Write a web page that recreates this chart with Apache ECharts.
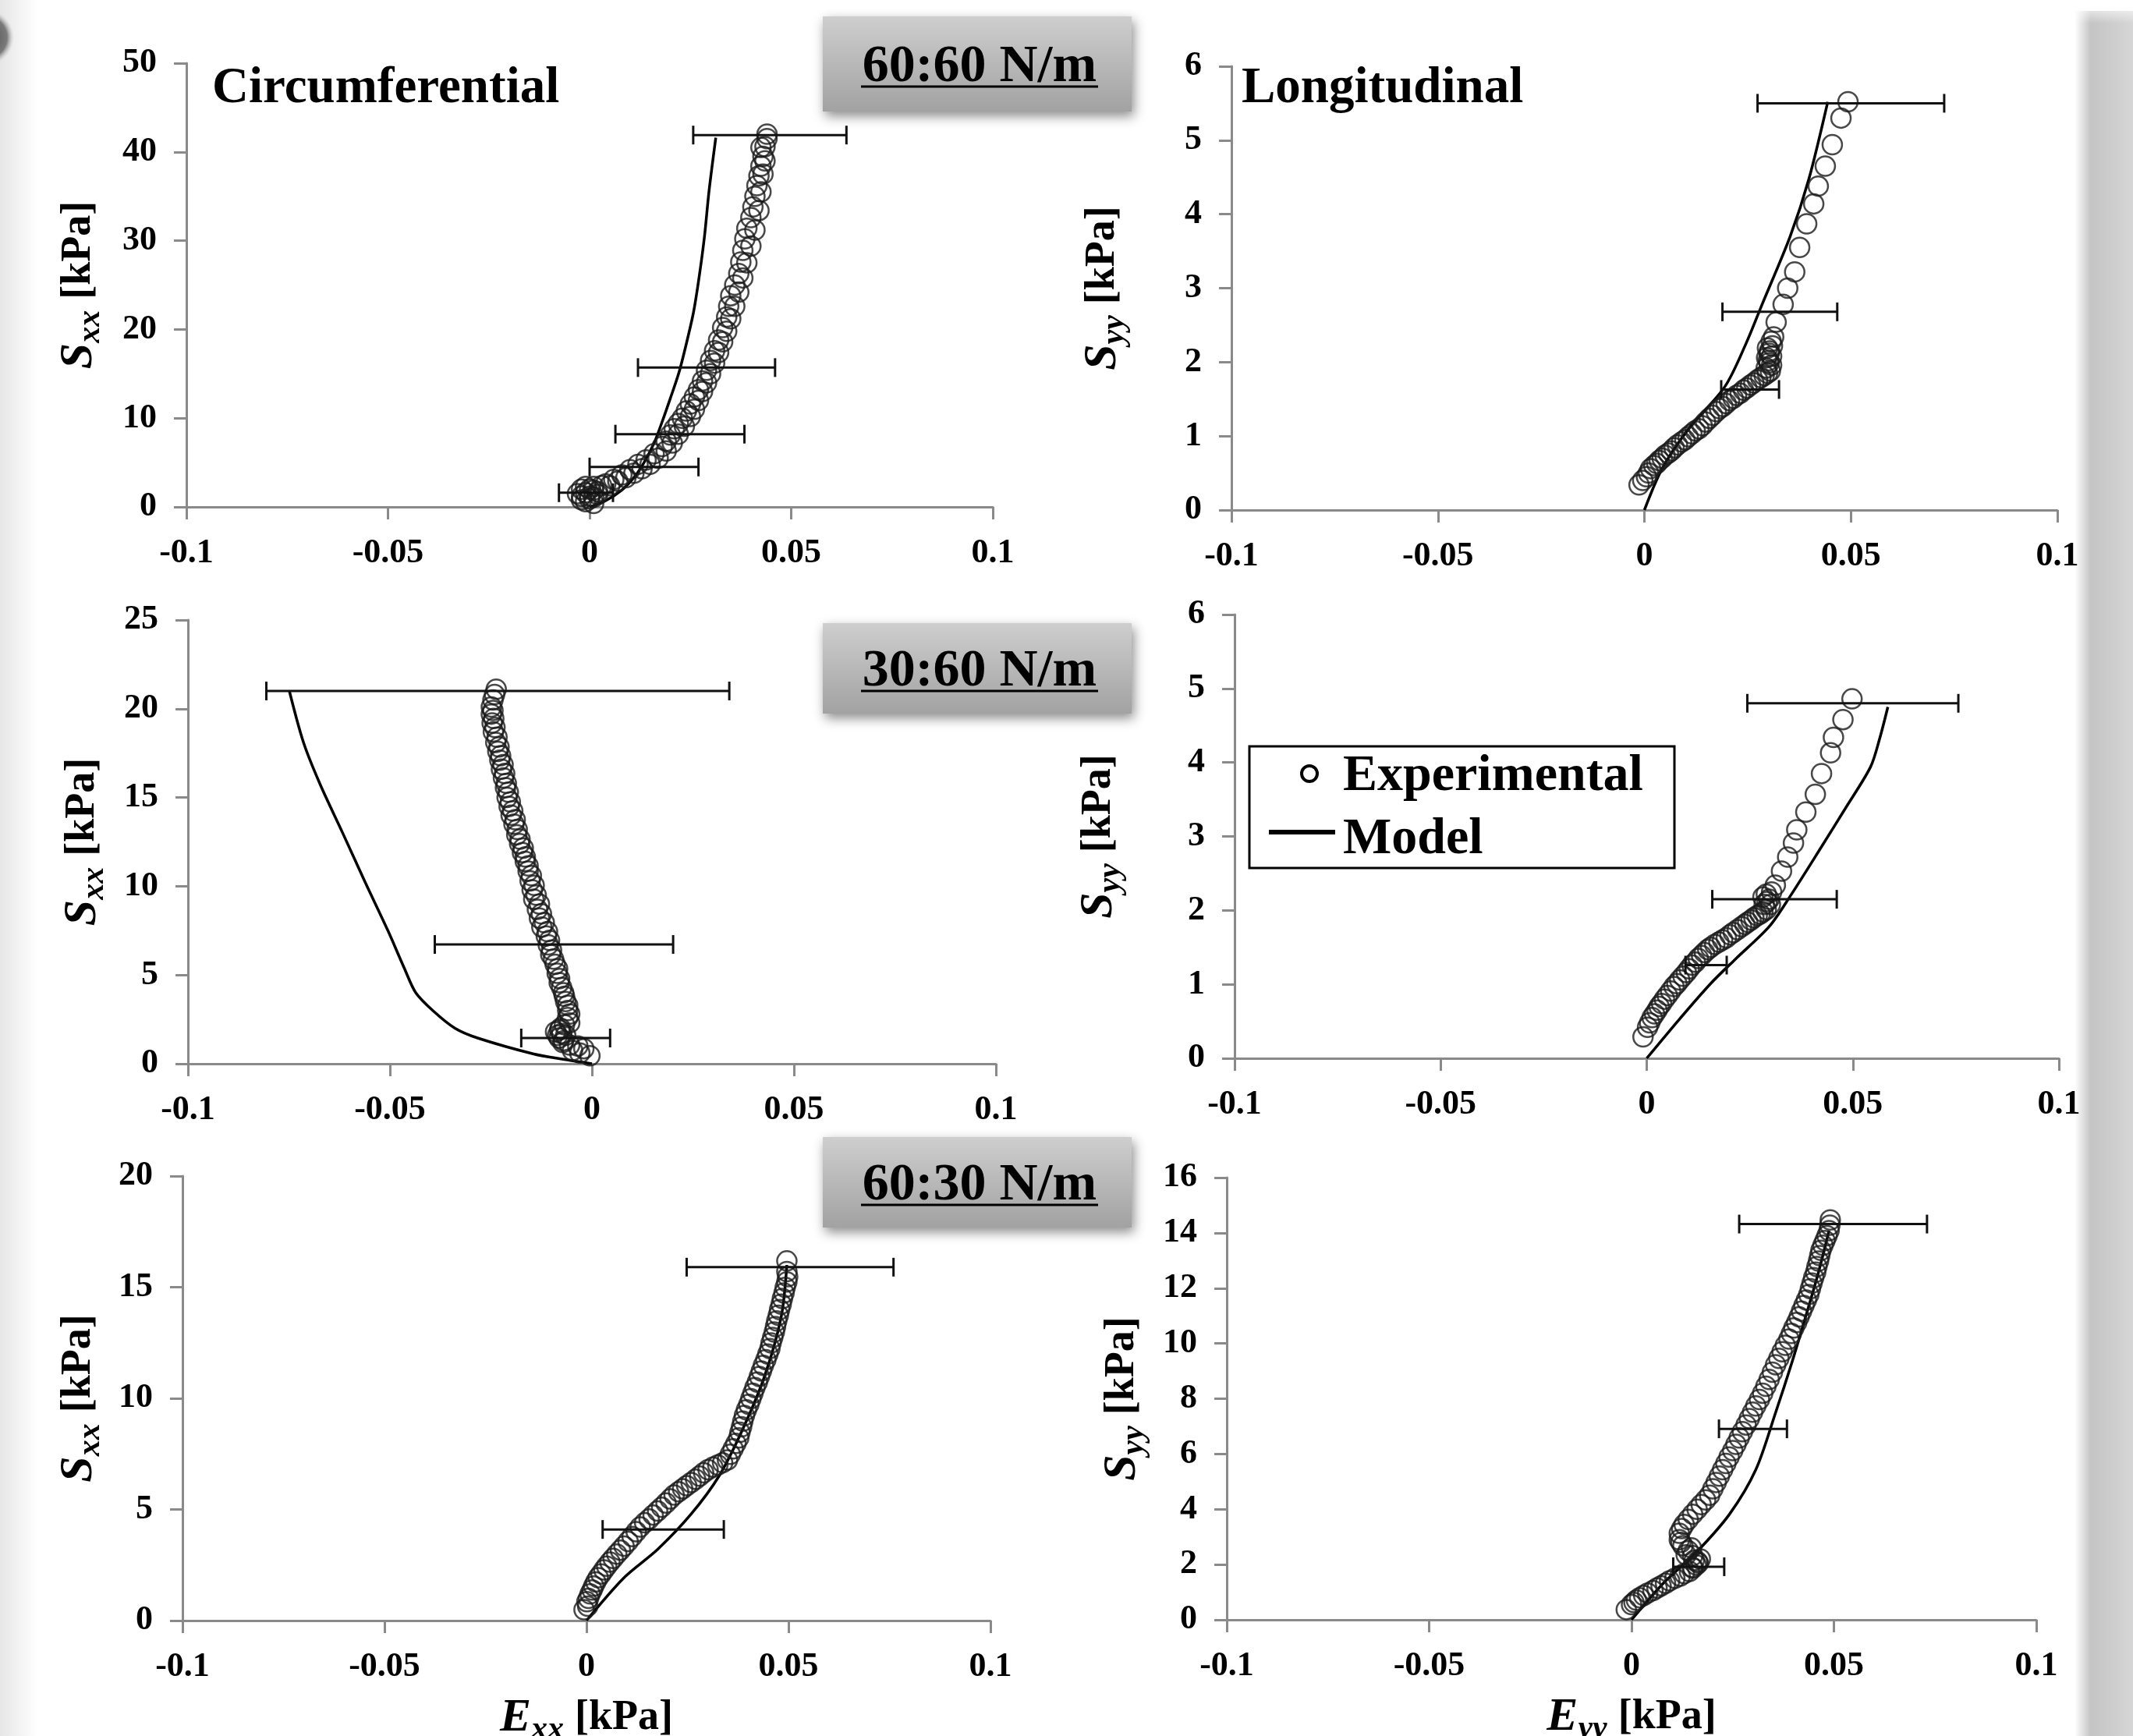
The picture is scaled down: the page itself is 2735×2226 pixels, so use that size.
<!DOCTYPE html>
<html>
<head>
<meta charset="utf-8">
<title>Stress vs strain, biaxial loading</title>
<script src="https://cdn.jsdelivr.net/npm/echarts@6/dist/echarts.min.js"></script>
<style>
  html, body { margin: 0; padding: 0; background: #fff; }
  #chart { width: 2735px; height: 2226px; }
</style>
</head>
<body>
<div id="chart"></div>
<script>
// values, as [E, S] pairs
// experimental data come in two overlapping passes (loading cycles), so two arrays each
// error bars are [E centre, S, half width]

// --- 60:60 N/m, circumferential ---
const circ6060Exp = [
  [-0.001, 0.6], [0.000, 0.9], [-0.002, 1.2], [0.001, 1.1], [-0.001, 1.6], [0.000, 2.0], [0.002, 1.7],
  [0.001, 2.3], [-0.002, 2.0], [0.003, 2.4], [0.004, 2.6], [0.006, 3.1], [0.008, 3.6], [0.010, 4.2],
  [0.012, 4.8], [0.014, 5.3], [0.016, 6.0], [0.018, 6.8], [0.019, 7.4], [0.020, 8.1], [0.021, 8.8],
  [0.022, 9.4], [0.023, 10.0], [0.024, 10.8], [0.025, 11.6], [0.026, 12.4], [0.027, 13.2], [0.028, 14.2],
  [0.029, 15.4], [0.030, 16.5], [0.031, 17.6], [0.032, 18.8], [0.033, 20.2], [0.034, 21.4], [0.0345, 22.6],
  [0.035, 23.8], [0.036, 25.0], [0.037, 26.3], [0.0375, 27.6], [0.038, 28.9], [0.0385, 30.2], [0.039, 31.4],
  [0.040, 32.6], [0.0405, 33.8], [0.041, 35.0], [0.0415, 36.2], [0.042, 37.3], [0.0425, 38.4], [0.043, 39.5],
  [0.0435, 40.6], [0.044, 41.5], [0.044, 42.0]
];
const circ6060Exp2 = [
  [0.001, 0.4], [-0.002, 0.8], [0.002, 1.4], [-0.003, 1.5], [0.000, 1.2], [0.001, 1.9], [-0.001, 2.3],
  [0.005, 2.4], [0.007, 2.9], [0.009, 3.3], [0.011, 3.8], [0.013, 4.3], [0.015, 4.8], [0.017, 5.5],
  [0.019, 6.3], [0.0205, 7.2], [0.022, 8.2], [0.0235, 9.1], [0.025, 10.2], [0.026, 11.0], [0.027, 12.0],
  [0.028, 13.0], [0.029, 14.0], [0.030, 15.0], [0.031, 16.2], [0.032, 17.4], [0.033, 18.6], [0.034, 19.8],
  [0.035, 21.2], [0.036, 22.6], [0.037, 24.2], [0.038, 25.8], [0.039, 27.5], [0.040, 29.4], [0.041, 31.2],
  [0.042, 33.4], [0.0425, 35.5], [0.043, 37.5], [0.0435, 39.0], [0.0425, 40.5]
];
const circ6060Model = [
  [0, 0], [0.004, 0.7], [0.008, 1.9], [0.011, 3.3], [0.0135, 5.0], [0.016, 7.2], [0.018, 9.6], [0.020, 12.2],
  [0.0222, 15.2], [0.024, 18.4], [0.0258, 22.0], [0.0272, 26.0], [0.0285, 30.5], [0.0296, 35.5], [0.0313, 41.6]
];
const circ6060Err = [[0.0447, 41.9, 0.019], [0.029, 15.7, 0.017], [0.0224, 8.2, 0.016], [0.0135, 4.5, 0.0135], [-0.0009, 1.6, 0.0067]];

// --- 60:60 N/m, longitudinal ---
const long6060Exp = [
  [-0.0013, 0.34], [0.0005, 0.45], [0.0015, 0.56], [0.003, 0.63], [0.0043, 0.70], [0.0058, 0.77], [0.0072, 0.84],
  [0.009, 0.92], [0.0106, 0.99], [0.0123, 1.07], [0.014, 1.14], [0.0157, 1.24], [0.0174, 1.33], [0.019, 1.40],
  [0.0206, 1.48], [0.0223, 1.55], [0.024, 1.62], [0.0257, 1.69], [0.0274, 1.76], [0.029, 1.82], [0.0305, 1.88],
  [0.0308, 1.96], [0.030, 2.02], [0.0308, 2.08], [0.0303, 2.15], [0.031, 2.22], [0.0313, 2.34], [0.0319, 2.54],
  [0.0336, 2.78], [0.0347, 3.0], [0.0364, 3.22], [0.0376, 3.55], [0.0393, 3.87], [0.041, 4.14], [0.0421, 4.38],
  [0.0438, 4.65], [0.0455, 4.94], [0.0476, 5.30], [0.0493, 5.52]
];
const long6060Exp2 = [
  [-0.0004, 0.4], [0.001, 0.5], [0.0023, 0.6], [0.0036, 0.67], [0.005, 0.74], [0.0065, 0.8], [0.008, 0.88],
  [0.0098, 0.95], [0.0115, 1.03], [0.0132, 1.1], [0.0148, 1.19], [0.0165, 1.28], [0.0182, 1.37], [0.0198, 1.44],
  [0.0215, 1.51], [0.0232, 1.58], [0.0248, 1.65], [0.0265, 1.72], [0.0282, 1.79], [0.0298, 1.85], [0.0295, 1.92],
  [0.0302, 1.99], [0.0296, 2.06], [0.0302, 2.12], [0.0298, 2.19], [0.0307, 2.28]
];
const long6060Model = [[0, 0], [0.0043, 0.56], [0.0106, 1.09], [0.0195, 1.67], [0.0246, 2.25], [0.0285, 2.78], [0.0353, 3.70], [0.0398, 4.47], [0.0444, 5.52]];
const long6060Err = [[0.050, 5.5, 0.0226], [0.0328, 2.68, 0.0139], [0.0256, 1.63, 0.007]];

// --- 30:60 N/m, circumferential ---
const circ3060Exp = [
  [-0.0005, 0.45], [-0.002, 0.85], [-0.0035, 1.0], [-0.0055, 1.05], [-0.007, 1.3], [-0.0081, 1.45], [-0.0075, 1.7],
  [-0.0065, 1.6], [-0.008, 1.9], [-0.0068, 2.2], [-0.006, 2.6], [-0.006, 3.0], [-0.0065, 3.5], [-0.007, 4.0],
  [-0.0081, 4.57], [-0.0086, 5.1], [-0.0091, 5.6], [-0.0102, 6.15], [-0.0108, 6.7], [-0.0113, 7.2], [-0.0124, 7.7],
  [-0.013, 8.2], [-0.0135, 8.7], [-0.0144, 9.27], [-0.0148, 9.8], [-0.0153, 10.3], [-0.0158, 10.85], [-0.0165, 11.4],
  [-0.0172, 11.9], [-0.0179, 12.4], [-0.0186, 12.9], [-0.0193, 13.5], [-0.020, 14.0], [-0.0205, 14.5], [-0.021, 15.0],
  [-0.0214, 15.55], [-0.0219, 16.1], [-0.0224, 16.6], [-0.0228, 17.1], [-0.0233, 17.6], [-0.0238, 18.1], [-0.0244, 18.7],
  [-0.0247, 19.2], [-0.0249, 19.7], [-0.0249, 20.1], [-0.0245, 20.5], [-0.0241, 20.8], [-0.0237, 21.1]
];
const circ3060Exp2 = [
  [-0.0085, 1.6], [-0.009, 1.8], [-0.0078, 2.0], [-0.0072, 1.2], [-0.0048, 0.75], [-0.003, 0.6],
  [-0.0055, 2.3], [-0.0055, 2.8], [-0.006, 3.3], [-0.0068, 3.8], [-0.0075, 4.3], [-0.008, 4.8], [-0.0085, 5.35],
  [-0.0095, 5.9], [-0.01, 6.4], [-0.0105, 6.95], [-0.011, 7.45], [-0.0118, 7.95], [-0.0125, 8.45], [-0.013, 9.0],
  [-0.0138, 9.5], [-0.0143, 10.05], [-0.015, 10.6], [-0.0158, 11.15], [-0.0165, 11.65], [-0.017, 12.15], [-0.0178, 12.65],
  [-0.0185, 13.2], [-0.019, 13.75], [-0.0196, 14.25], [-0.0202, 14.75], [-0.0207, 15.3], [-0.0212, 15.8], [-0.0216, 16.35],
  [-0.022, 16.85], [-0.0226, 17.35], [-0.023, 17.85], [-0.0235, 18.4], [-0.024, 18.95], [-0.0243, 19.45], [-0.0245, 19.9]
];
const circ3060Model = [
  [0, 0], [-0.0074, 0.26], [-0.0144, 0.55], [-0.0283, 1.45], [-0.0339, 2.0], [-0.0394, 3.0], [-0.0436, 4.0],
  [-0.0464, 5.36], [-0.0505, 7.5], [-0.0562, 10.26], [-0.0617, 13.0], [-0.0673, 15.75], [-0.0714, 18.1], [-0.0749, 21.0]
];
const circ3060Err = [[-0.0233, 21.0, 0.0573], [-0.0094, 6.72, 0.0295], [-0.0065, 1.45, 0.011]];

// --- 30:60 N/m, longitudinal ---
const long3060Exp = [
  [-0.0009, 0.29], [0.0002, 0.42], [0.0013, 0.55], [0.0025, 0.65], [0.0036, 0.74], [0.005, 0.85], [0.0066, 0.97],
  [0.008, 1.06], [0.0096, 1.16], [0.011, 1.26], [0.0125, 1.35], [0.014, 1.43], [0.0155, 1.50], [0.0175, 1.57],
  [0.0193, 1.63], [0.021, 1.70], [0.023, 1.78], [0.0245, 1.84], [0.026, 1.90], [0.0275, 1.95], [0.029, 2.01],
  [0.0285, 2.08], [0.0297, 2.15], [0.029, 2.22], [0.0312, 2.34], [0.0327, 2.53], [0.0342, 2.72], [0.0356, 2.91],
  [0.0364, 3.09], [0.0386, 3.33], [0.0409, 3.57], [0.0424, 3.85], [0.0446, 4.13], [0.0453, 4.34], [0.0476, 4.58],
  [0.0498, 4.86]
];
const long3060Exp2 = [
  [0.0007, 0.48], [0.0019, 0.6], [0.003, 0.7], [0.0043, 0.8], [0.0058, 0.91], [0.0073, 1.01], [0.0088, 1.11],
  [0.0103, 1.21], [0.0118, 1.3], [0.0133, 1.39], [0.0148, 1.47], [0.0165, 1.54], [0.0184, 1.6], [0.0202, 1.67],
  [0.022, 1.74], [0.0238, 1.81], [0.0253, 1.87], [0.0268, 1.93], [0.0282, 1.98], [0.030, 2.08], [0.0292, 2.12],
  [0.0303, 2.25], [0.0282, 2.18]
];
const long3060Model = [[0, 0], [0.0081, 0.54], [0.0155, 1.01], [0.0215, 1.34], [0.0297, 1.78], [0.0349, 2.20], [0.0424, 2.86], [0.0482, 3.38], [0.0543, 3.94], [0.0565, 4.32], [0.0585, 4.75]];
const long3060Err = [[0.050, 4.80, 0.0256], [0.031, 2.15, 0.0151], [0.0144, 1.26, 0.005]];

// --- 60:30 N/m, circumferential ---
const circ6030Exp = [
  [-0.0006, 0.49], [0.0001, 0.85], [0.0009, 1.20], [0.0018, 1.55], [0.0029, 1.93], [0.0043, 2.28], [0.0058, 2.63],
  [0.0075, 2.99], [0.0093, 3.35], [0.0113, 3.78], [0.0133, 4.21], [0.0155, 4.57], [0.0176, 4.93], [0.0197, 5.29],
  [0.0217, 5.65], [0.0238, 5.93], [0.0259, 6.21], [0.028, 6.5], [0.0301, 6.79], [0.0325, 7.0], [0.0349, 7.23],
  [0.0363, 7.73], [0.0377, 8.22], [0.0384, 8.72], [0.0391, 9.23], [0.0402, 9.73], [0.0412, 10.23], [0.0423, 10.73],
  [0.0433, 11.23], [0.0444, 11.74], [0.0454, 12.24], [0.0461, 12.74], [0.0468, 13.23], [0.0475, 13.74], [0.0482, 14.24],
  [0.0489, 14.74], [0.0496, 15.24], [0.0496, 15.7], [0.0496, 16.18]
];
const circ6030Exp2 = [
  [0.0003, 0.65], [0.0005, 1.0], [0.0014, 1.38], [0.0023, 1.74], [0.0036, 2.1], [0.005, 2.45], [0.0066, 2.8],
  [0.0084, 3.17], [0.0103, 3.56], [0.0123, 4.0], [0.0144, 4.4], [0.0165, 4.75], [0.0186, 5.1], [0.0207, 5.47],
  [0.0228, 5.8], [0.0248, 6.07], [0.027, 6.36], [0.029, 6.65], [0.0313, 6.9], [0.0337, 7.1], [0.0356, 7.48],
  [0.037, 7.97], [0.038, 8.47], [0.0387, 8.97], [0.0396, 9.48], [0.0407, 9.98], [0.0417, 10.48], [0.0428, 10.98],
  [0.0438, 11.48], [0.0449, 11.99], [0.0457, 12.49], [0.0465, 12.98], [0.0471, 13.48], [0.0478, 13.99], [0.0485, 14.49],
  [0.0492, 14.99], [0.0498, 15.47]
];
const circ6030Model = [[0, 0], [0.0093, 1.93], [0.0176, 3.2], [0.0259, 4.79], [0.0328, 6.5], [0.0384, 8.5], [0.044, 10.95], [0.0482, 13.66], [0.0496, 16.0]];
const circ6030Err = [[0.0504, 15.9, 0.0256], [0.019, 4.1, 0.015]];

// --- 60:30 N/m, longitudinal ---
const long6030Exp = [
  [-0.0013, 0.37], [0.0, 0.55], [0.0012, 0.71], [0.003, 0.88], [0.0053, 1.06], [0.0073, 1.23], [0.0094, 1.41],
  [0.012, 1.58], [0.0143, 1.75], [0.016, 1.98], [0.0165, 2.05], [0.015, 1.9], [0.017, 2.2], [0.0155, 2.15],
  [0.0151, 2.32], [0.0135, 2.35], [0.014, 2.5], [0.0127, 2.68], [0.0118, 2.9], [0.0118, 3.13], [0.013, 3.45],
  [0.0151, 3.82], [0.0172, 4.17], [0.0193, 4.51], [0.0209, 4.97], [0.0225, 5.43], [0.0241, 5.89], [0.0258, 6.35],
  [0.0274, 6.81], [0.0291, 7.28], [0.0307, 7.74], [0.0324, 8.2], [0.034, 8.7], [0.0356, 9.23], [0.0372, 9.7],
  [0.0389, 10.16], [0.0401, 10.56], [0.0414, 10.96], [0.0426, 11.37], [0.0438, 11.77], [0.0446, 12.18], [0.0455, 12.58],
  [0.0462, 12.98], [0.0468, 13.37], [0.0478, 13.72], [0.0488, 14.08], [0.0491, 14.47]
];
const long6030Exp2 = [
  [0.0006, 0.63], [0.002, 0.8], [0.004, 0.97], [0.0063, 1.15], [0.0084, 1.32], [0.0107, 1.5], [0.013, 1.67],
  [0.0152, 1.87], [0.0163, 2.1], [0.0148, 2.6], [0.0122, 2.8], [0.0124, 3.3], [0.014, 3.63], [0.0162, 4.0],
  [0.0183, 4.34], [0.0201, 4.74], [0.0217, 5.2], [0.0233, 5.66], [0.025, 6.12], [0.0266, 6.58], [0.0283, 7.05],
  [0.0299, 7.51], [0.0316, 7.97], [0.0332, 8.45], [0.0348, 8.96], [0.0364, 9.46], [0.038, 9.93], [0.0395, 10.36],
  [0.0408, 10.76], [0.042, 11.17], [0.0432, 11.57], [0.0442, 11.98], [0.045, 12.38], [0.0458, 12.78], [0.0465, 13.18],
  [0.0473, 13.55], [0.0483, 13.9], [0.049, 14.28]
];
const long6030Model = [[0, 0], [0.0077, 1.3], [0.016, 2.44], [0.0242, 3.82], [0.0307, 5.43], [0.0356, 7.5], [0.0397, 9.35], [0.043, 10.96], [0.0462, 12.58], [0.0488, 14.08]];
const long6030Err = [[0.0498, 14.32, 0.0232], [0.030, 6.91, 0.0084], [0.0166, 1.92, 0.0063]];

// axis ranges: y max and y step per panel
const yMaxes = [50, 6, 25, 6, 20, 16];
const ySteps = [10, 1, 5, 1, 5, 2];
const loadLabels = ['60:60 N/m', '30:60 N/m', '60:30 N/m'];

// panel layout in pixels: [left, top, width, height], y-name gap
const panels = [
  { box: [239, 81, 1034, 569], gap: 108, exp: circ6060Exp.concat(circ6060Exp2), model: circ6060Model, err: circ6060Err, sub: 'xx', xName: false },
  { box: [1579, 85, 1059, 569], gap: 135, exp: long6060Exp.concat(long6060Exp2), model: long6060Model, err: long6060Err, sub: 'yy', xName: false },
  { box: [241, 795, 1036, 569], gap: 105, exp: circ3060Exp.concat(circ3060Exp2), model: circ3060Model, err: circ3060Err, sub: 'xx', xName: false },
  { box: [1583, 788, 1057, 569], gap: 144, exp: long3060Exp.concat(long3060Exp2), model: long3060Model, err: long3060Err, sub: 'yy', xName: false },
  { box: [234, 1508, 1036, 570], gap: 103, exp: circ6030Exp.concat(circ6030Exp2), model: circ6030Model, err: circ6030Err, sub: 'xx', xName: true },
  { box: [1573, 1510, 1038, 567], gap: 104, exp: long6030Exp.concat(long6030Exp2), model: long6030Model, err: long6030Err, sub: 'yy', xName: true }
];

const SERIF = 'Liberation Serif';
const AXIS_GREY = '#8a8a8a';

const richName = {
  s: { fontFamily: SERIF, fontSize: 60, fontWeight: 'bold', fontStyle: 'italic', color: '#000', lineHeight: 60 },
  sub: { fontFamily: SERIF, fontSize: 42, fontWeight: 'bold', fontStyle: 'italic', color: '#000', lineHeight: 40, padding: [30, 0, 0, 0] },
  u: { fontFamily: SERIF, fontSize: 54, fontWeight: 'bold', color: '#000', lineHeight: 60, padding: [0, 0, 0, 14] }
};

const axisCommon = {
  axisLine: { onZero: false, lineStyle: { color: AXIS_GREY, width: 3 } },
  axisTick: { show: true, length: 16, lineStyle: { color: AXIS_GREY, width: 3 } },
  axisLabel: { fontFamily: SERIF, fontWeight: 'bold', fontSize: 44, color: '#000', margin: 38 },
  splitLine: { show: false }
};

const grids = [], xAxes = [], yAxes = [], series = [];

panels.forEach((p, i) => {
  // outerBoundsMode none: keep the grid where it is, the bottom titles run off the page like the original
  grids.push({ left: p.box[0], top: p.box[1], width: p.box[2], height: p.box[3], containLabel: false, outerBoundsMode: 'none' });
  xAxes.push(Object.assign({
    gridIndex: i, type: 'value', min: -0.1, max: 0.1, interval: 0.05,
    name: p.xName ? '{s|E}{sub|' + p.sub + '}{u|[kPa]}' : '',
    nameLocation: 'middle', nameGap: 95,
    nameTextStyle: { rich: richName }
  }, axisCommon));
  yAxes.push(Object.assign({
    gridIndex: i, type: 'value', min: 0, max: yMaxes[i], interval: ySteps[i],
    name: '{s|S}{sub|' + p.sub + '}{u|[kPa]}',
    nameLocation: 'middle', nameGap: p.gap,
    nameTextStyle: { rich: richName }
  }, axisCommon));

  series.push({
    name: 'Model', type: 'line', xAxisIndex: i, yAxisIndex: i,
    data: p.model, showSymbol: false, smooth: 0.3,
    lineStyle: { color: '#000', width: 3.5 }, z: 2
  });
  series.push({
    name: 'Experimental', type: 'scatter', xAxisIndex: i, yAxisIndex: i,
    data: p.exp, symbol: 'circle', symbolSize: 25,
    itemStyle: { color: 'rgba(255,255,255,0)', borderColor: '#1a1a1a', borderWidth: 2.5 }, z: 3
  });
  series.push({
    name: 'Error', type: 'custom', xAxisIndex: i, yAxisIndex: i,
    data: p.err.map(e => [e[0] - e[2], e[0] + e[2], e[1]]),
    encode: { x: [0, 1], y: 2 },
    renderItem: (params, api) => {
      const lo = api.coord([api.value(0), api.value(2)]);
      const hi = api.coord([api.value(1), api.value(2)]);
      const st = { stroke: '#111', lineWidth: 3 };
      const cap = 12;
      return {
        type: 'group',
        children: [
          { type: 'line', shape: { x1: lo[0], y1: lo[1], x2: hi[0], y2: hi[1] }, style: st },
          { type: 'line', shape: { x1: lo[0], y1: lo[1] - cap, x2: lo[0], y2: lo[1] + cap }, style: st },
          { type: 'line', shape: { x1: hi[0], y1: hi[1] - cap, x2: hi[0], y2: hi[1] + cap }, style: st }
        ]
      };
    },
    z: 4
  });
});

// grey label boxes with underlined load ratios
const boxTops = [21, 799, 1458];
const boxGraphics = [];
boxTops.forEach((t, k) => {
  const h = k === 0 ? 122 : 116;
  const ty = t + h / 2 + 4;
  boxGraphics.push({
    type: 'rect', shape: { x: 1055, y: t, width: 396, height: h },
    style: {
      fill: new echarts.graphic.LinearGradient(0, 0, 0, 1, [
        { offset: 0, color: '#cecece' }, { offset: 1, color: '#a2a2a2' }
      ]),
      shadowBlur: 14, shadowColor: 'rgba(0,0,0,0.45)', shadowOffsetX: 3, shadowOffsetY: 6
    },
    z: 10
  });
  boxGraphics.push({
    type: 'text', x: 1256, y: ty,
    style: { text: loadLabels[k], font: 'bold 68px "Liberation Serif"', fill: '#000', align: 'center', verticalAlign: 'middle', textAlign: 'center', textVerticalAlign: 'middle' },
    z: 11
  });
  boxGraphics.push({
    type: 'line', shape: { x1: 1104, y1: ty + 25, x2: 1408, y2: ty + 25 },
    style: { stroke: '#000', lineWidth: 3 }, z: 11
  });
});

const option = {
  animation: false,
  backgroundColor: '#fff',
  grid: grids,
  xAxis: xAxes,
  yAxis: yAxes,
  series: series,
  graphic: [
    // page shadow on both sides
    { type: 'rect', shape: { x: 0, y: 0, width: 48, height: 2226 },
      style: { fill: new echarts.graphic.LinearGradient(0, 0, 1, 0, [
        { offset: 0, color: '#e6e6e6' }, { offset: 1, color: '#ffffff' }]) }, z: 0 },
    { type: 'ellipse', shape: { cx: -18, cy: 48, rx: 36, ry: 58 },
      style: { fill: new echarts.graphic.RadialGradient(0.5, 0.5, 0.5, [
        { offset: 0, color: '#4a4a4a' }, { offset: 0.75, color: '#7a7a7a' }, { offset: 1, color: 'rgba(200,200,200,0)' }]) }, z: 0 },
    { type: 'rect', shape: { x: 2660, y: 14, width: 75, height: 2212 },
      style: { fill: new echarts.graphic.LinearGradient(0, 0, 1, 0, [
        { offset: 0, color: '#ffffff' }, { offset: 0.28, color: '#c4c4c4' }, { offset: 1, color: '#d6d6d6' }]) }, z: 0 },
    { type: 'rect', shape: { x: 2660, y: 0, width: 75, height: 30 },
      style: { fill: new echarts.graphic.LinearGradient(0, 0, 0, 1, [
        { offset: 0, color: '#ffffff' }, { offset: 1, color: 'rgba(255,255,255,0)' }]) }, z: 1 },

    // direction labels
    { type: 'text', x: 272, y: 114,
      style: { text: 'Circumferential', font: 'bold 65px "Liberation Serif"', fill: '#000', align: 'left', verticalAlign: 'middle', textAlign: 'left', textVerticalAlign: 'middle' }, z: 10 },
    { type: 'text', x: 1592, y: 114,
      style: { text: 'Longitudinal', font: 'bold 65px "Liberation Serif"', fill: '#000', align: 'left', verticalAlign: 'middle', textAlign: 'left', textVerticalAlign: 'middle' }, z: 10 },

    // legend
    { type: 'rect', shape: { x: 1602, y: 957, width: 545, height: 156 },
      style: { fill: '#fff', stroke: '#000', lineWidth: 3 }, z: 10 },
    { type: 'circle', shape: { cx: 1679, cy: 992, r: 10 },
      style: { fill: 'none', stroke: '#000', lineWidth: 4 }, z: 11 },
    { type: 'line', shape: { x1: 1627, y1: 1067, x2: 1712, y2: 1067 },
      style: { stroke: '#000', lineWidth: 6 }, z: 11 },
    { type: 'text', x: 1722, y: 996,
      style: { text: 'Experimental', font: 'bold 66px "Liberation Serif"', fill: '#000', align: 'left', verticalAlign: 'middle', textAlign: 'left', textVerticalAlign: 'middle' }, z: 11 },
    { type: 'text', x: 1722, y: 1077,
      style: { text: 'Model', font: 'bold 66px "Liberation Serif"', fill: '#000', align: 'left', verticalAlign: 'middle', textAlign: 'left', textVerticalAlign: 'middle' }, z: 11 }
  ].concat(boxGraphics)
};

const chart = echarts.init(document.getElementById('chart'));
chart.setOption(option);
window.addEventListener('resize', () => chart.resize());
</script>
</body>
</html>
